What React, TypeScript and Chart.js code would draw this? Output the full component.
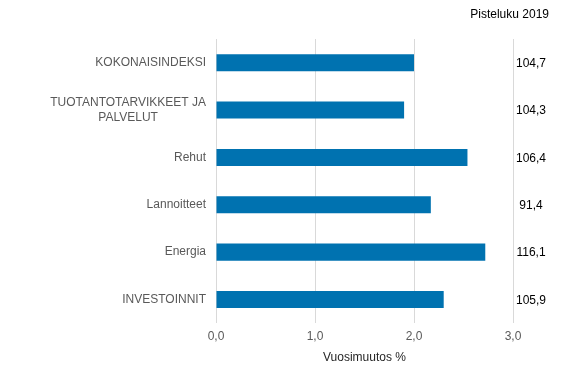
import React, { useEffect, useRef } from "react";
import { Chart, registerables } from "chart.js";

Chart.register(...registerables);

const categories: (string | string[])[] = [
  "KOKONAISINDEKSI",
  ["TUOTANTOTARVIKKEET JA", "PALVELUT"],
  "Rehut",
  "Lannoitteet",
  "Energia",
  "INVESTOINNIT",
];
const annualChange = [2.0, 1.9, 2.54, 2.17, 2.72, 2.3];
const pointIndex2019 = ["104,7", "104,3", "106,4", "91,4", "116,1", "105,9"];
const xTicks = [0, 1, 2, 3];
const headerText = "Pisteluku 2019";
const xTitle = "Vuosimuutos %";

const FONT = "'Liberation Sans', Arial, sans-serif";

const labelsPlugin = {
  id: "customLabels",
  afterDraw(chart: any) {
    const ctx = chart.ctx;
    const yScale = chart.scales.y;
    const area = chart.chartArea;
    ctx.save();
    ctx.font = `12px ${FONT}`;
    ctx.textBaseline = "middle";
    // category labels
    ctx.fillStyle = "#595959";
    const rightEdge = area.left - 10;
    categories.forEach((lab, i) => {
      const y = yScale.getPixelForValue(i);
      if (Array.isArray(lab)) {
        const w = Math.max(...lab.map((l) => ctx.measureText(l).width));
        const cx = rightEdge - w / 2;
        const lh = 15;
        ctx.textAlign = "center";
        lab.forEach((l, j) => {
          ctx.fillText(l, cx, y + (j - (lab.length - 1) / 2) * lh);
        });
      } else {
        ctx.textAlign = "right";
        ctx.fillText(lab, rightEdge, y);
      }
    });
    // point index values
    ctx.fillStyle = "#000000";
    ctx.textAlign = "center";
    pointIndex2019.forEach((v, i) => {
      const y = yScale.getPixelForValue(i);
      ctx.fillText(v, area.right + 18, y + 1);
    });
    // header
    ctx.textAlign = "right";
    ctx.fillText(headerText, area.right + 36, 15);
    ctx.restore();
  },
};

export default function App() {
  const ref = useRef<HTMLCanvasElement>(null);
  useEffect(() => {
    const chart = new Chart(ref.current as HTMLCanvasElement, {
      type: "bar",
      data: {
        labels: categories as any,
        datasets: [
          {
            data: annualChange,
            backgroundColor: "#0072b0",
            barPercentage: 0.36,
            categoryPercentage: 1,
          },
        ],
      },
      plugins: [labelsPlugin],
      options: {
        indexAxis: "y",
        animation: false,
        responsive: false,
        maintainAspectRatio: false,
        layout: { padding: { left: 216, right: 66, top: 39, bottom: 13 } },
        plugins: { legend: { display: false }, tooltip: { enabled: false } },
        scales: {
          y: { display: false },
          x: {
            min: 0,
            max: 3,
            afterBuildTicks: (scale: any) => {
              scale.ticks = xTicks.map((v) => ({ value: v }));
            },
            grid: { color: "#d9d9d9", drawTicks: false },
            border: { display: false },
            ticks: {
              color: "#595959",
              font: { family: FONT, size: 12 },
              padding: 6,
              callback: (v: any) => Number(v).toFixed(1).replace(".", ","),
            },
            title: {
              display: true,
              text: xTitle,
              color: "#262626",
              font: { family: FONT, size: 12 },
              padding: { top: 1, bottom: 0 },
            },
          },
        },
      },
    });
    return () => chart.destroy();
  }, []);
  return (
    <div style={{ position: "fixed", left: 0, top: 0, width: 579, height: 378, background: "#fff" }}>
      <canvas ref={ref} width={579} height={378} style={{ width: 579, height: 378 }} />
    </div>
  );
}
